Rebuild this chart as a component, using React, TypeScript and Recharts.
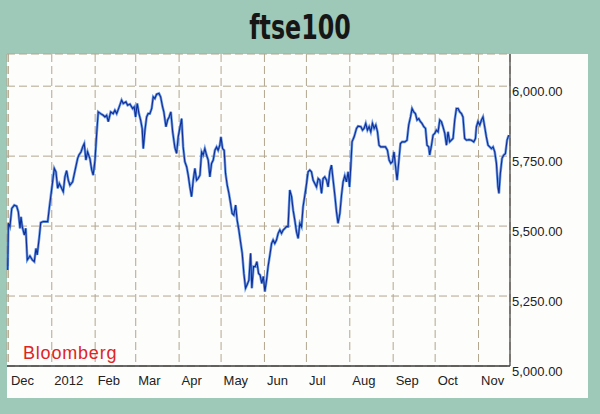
import { LineChart, Line, XAxis, YAxis, CartesianGrid } from 'recharts';

// days counted from 1 Dec 2011, FTSE 100 closing level
const days = [
  -0.5, 0, 1.1, 2.4, 4.2, 5.9, 7.1, 8.3, 9.0, 9.9, 11.4, 12.4, 13.5, 15.4, 17.1, 18.5, 19.7, 20.6, 22.1, 23.1,
  24.9, 26.6, 28.1, 29.2, 30.4, 31.6, 32.8, 34.0, 35.2, 36.4, 37.6, 39.2, 40.4, 41.6, 42.8, 44.0, 45.9, 47.6,
  49.5, 50.4, 51.9, 53.1, 54.2, 55.4, 56.6, 58.3, 59.5, 60.6, 61.9, 63.1, 64.2, 65.9, 67.8, 69.0, 70.2, 71.4,
  73.1, 74.9, 76.1, 77.4, 79.2, 80.9, 82.1, 84.0, 85.2, 86.9, 88.8, 89.9, 90.9, 92.1, 93.3, 94.5, 95.6, 96.4,
  97.6, 98.8, 99.9, 101.1, 102.4, 103.5, 104.7, 105.9, 107.6, 108.8, 110.2, 111.1, 112.6, 113.8, 114.9, 116.1,
  117.4, 119.0, 120.2, 121.4, 122.6, 123.8, 124.9, 126.1, 127.4, 128.5, 129.7, 130.9, 132.1, 133.3, 134.5,
  135.6, 136.9, 138.1, 139.2, 140.4, 141.6, 142.8, 144.0, 145.2, 146.4, 147.6, 148.8, 149.9, 151.1, 151.9,
  153.1, 154.2, 155.2, 156.4, 157.6, 158.8, 159.9, 161.1, 162.4, 163.5, 164.7, 165.9, 167.1, 168.3, 169.5,
  170.6, 171.9, 173.1, 174.0, 175.2, 176.4, 177.6, 178.8, 179.9, 181.1, 182.2, 183.3, 184.5, 185.6, 186.9,
  188.1, 189.2, 190.4, 191.6, 192.8, 194.0, 195.2, 196.4, 197.6, 198.8, 199.9, 201.1, 202.4, 203.5, 204.7,
  205.9, 207.1, 208.3, 209.5, 210.6, 211.9, 213.1, 214.2, 215.4, 216.6, 217.8, 219.0, 220.2, 221.4, 222.6,
  223.8, 224.9, 226.1, 227.4, 228.5, 229.7, 230.9, 232.1, 233.3, 234.5, 235.6, 236.9, 238.1, 239.2, 240.4,
  241.6, 242.8, 243.8, 244.7, 245.6, 247.1, 248.8, 249.9, 251.9, 253.1, 254.2, 255.4, 256.6, 257.8, 259.0,
  260.2, 261.4, 262.6, 263.8, 264.9, 266.1, 267.8, 269.5, 270.9, 272.1, 273.3, 274.5, 275.6, 276.6, 277.8,
  279.0, 280.2, 281.4, 283.3, 284.9, 286.1, 287.4, 288.5, 289.7, 290.9, 292.1, 293.3, 294.5, 295.6, 296.9,
  298.1, 299.2, 300.4, 301.1, 302.4, 303.5, 304.7, 305.9, 307.1, 308.3, 309.5, 310.6, 311.9, 313.1, 314.2,
  315.4, 316.6, 317.8, 319.0, 320.2, 321.4, 322.6, 323.8, 324.9, 326.1, 327.4, 329.2, 330.9, 332.6, 333.8,
  334.5, 335.6, 336.9, 338.1, 339.2, 340.4, 341.6, 342.8, 344.0, 345.2, 346.4, 347.6, 348.8, 349.9, 350.6,
  351.6, 352.8, 354.0, 355.2, 356.4, 357.6,
];

const closes = [
  5343, 5510, 5498, 5563, 5575, 5571, 5551, 5492, 5533, 5498, 5468, 5492, 5379, 5393, 5379, 5373, 5420, 5397, 5462, 5512,
  5516, 5516, 5516, 5563, 5611, 5658, 5706, 5694, 5635, 5652, 5640, 5623, 5676, 5698, 5664, 5646, 5658, 5698,
  5742, 5754, 5765, 5783, 5795, 5736, 5765, 5740, 5702, 5682, 5736, 5831, 5908, 5902, 5896, 5890, 5896, 5873,
  5908, 5902, 5914, 5902, 5926, 5950, 5938, 5944, 5932, 5936, 5920, 5926, 5890, 5938, 5902, 5879, 5849, 5777,
  5843, 5890, 5902, 5902, 5920, 5962, 5956, 5971, 5974, 5962, 5926, 5908, 5855, 5879, 5890, 5908,
  5837, 5780, 5760, 5820, 5852, 5884, 5783, 5730, 5712, 5682, 5640, 5605, 5664, 5706, 5664,
  5670, 5682, 5765, 5754, 5777, 5754, 5736, 5676, 5724, 5736, 5771, 5783, 5771, 5789, 5819,
  5777, 5771, 5688, 5646, 5617, 5581, 5545, 5539, 5575, 5521, 5486, 5444, 5403, 5331, 5278,
  5290, 5307, 5403, 5278, 5355, 5355, 5373, 5331, 5325, 5295, 5320, 5266, 5307, 5355, 5397,
  5438, 5450, 5438, 5450, 5474, 5486, 5474, 5486, 5492, 5498, 5498, 5629, 5605, 5557, 5521,
  5480, 5456, 5510, 5498, 5569, 5611, 5652, 5694, 5700, 5694, 5664, 5652, 5640, 5670, 5664,
  5617, 5670, 5676, 5664, 5640, 5694, 5718, 5664, 5611, 5551, 5510, 5545, 5611, 5658, 5680,
  5658, 5694, 5640, 5712, 5801, 5819, 5849, 5857, 5855, 5843, 5849, 5867, 5843, 5855, 5837,
  5867, 5849, 5861, 5837, 5789, 5783, 5783, 5783, 5771, 5736, 5724, 5730, 5765, 5718, 5664,
  5730, 5795, 5801, 5801, 5807, 5861, 5890, 5920, 5908, 5902, 5879, 5884, 5873, 5867, 5855,
  5849, 5789, 5783, 5754, 5789, 5825, 5831, 5843, 5837, 5879, 5873, 5855, 5831, 5789, 5837,
  5801, 5807, 5813, 5879, 5920, 5920, 5908, 5902, 5890, 5813, 5807, 5809, 5807, 5801, 5813,
  5855, 5873, 5861, 5879, 5890, 5855, 5819, 5789, 5783, 5777, 5783, 5765, 5724, 5640, 5617,
  5688, 5742, 5754, 5759, 5807, 5825,
];

const monthTicks = [0, 31, 62, 91, 122, 152, 183, 213, 244, 275, 305, 336];
const monthLabels = ['Dec', '2012', 'Feb', 'Mar', 'Apr', 'May', 'Jun', 'Jul', 'Aug', 'Sep', 'Oct', 'Nov'];
const priceTicks = [5000, 5250, 5500, 5750, 6000];

const data = days.map((d, i) => ({ day: d, close: closes[i] }));

const labelFont = '"Liberation Sans", Arial, sans-serif';

function MonthTick(props: any) {
  const { x, y, payload } = props;
  const idx = monthTicks.indexOf(payload.value);
  return (
    <text x={x + 2.5} y={y + 19} fontFamily={labelFont} fontSize={13} fill="#222" textAnchor="start">
      {monthLabels[idx]}
    </text>
  );
}

function PriceTick(props: any) {
  const { x, y, payload } = props;
  const label = payload.value.toLocaleString('en-US', { minimumFractionDigits: 2, maximumFractionDigits: 2 });
  return (
    <text x={x + 2} y={y + 10} fontFamily={labelFont} fontSize={13} fill="#222" textAnchor="start">
      {label}
    </text>
  );
}

export default function App() {
  return (
    <div style={{ position: 'absolute', left: 0, top: 0, width: 600, height: 414, background: '#9ec8b7', overflow: 'hidden' }}>
      <div
        style={{
          position: 'absolute', left: 0, top: 9, width: 600, textAlign: 'center',
          fontFamily: '"DejaVu Sans", sans-serif',
          fontWeight: 'bold', fontSize: 33, color: '#161616', lineHeight: '38px',
          transform: 'scaleX(0.72)',
        }}
      >
        ftse100
      </div>
      <div style={{ position: 'absolute', left: 7, top: 54, width: 581, height: 344, background: '#fdfdfb' }} />
      <div style={{ position: 'absolute', left: 0, top: 0 }}>
        <LineChart width={600} height={414} data={data} margin={{ top: 54, left: 7, right: 0, bottom: 18 }}>
          <CartesianGrid stroke="#b3a68f" strokeDasharray="8 4" strokeWidth={1} />
          <XAxis
            dataKey="day"
            type="number"
            domain={[-1, 358.5]}
            ticks={monthTicks}
            interval={0}
            height={30}
            tickSize={0}
            tickMargin={0}
            tickLine={false}
            axisLine={{ stroke: '#3a3a3a', strokeWidth: 1.5 }}
            tick={<MonthTick />}
          />
          <YAxis
            orientation="right"
            type="number"
            domain={[5000, 6115]}
            ticks={priceTicks}
            interval={0}
            width={90}
            tickSize={0}
            tickMargin={0}
            tickLine={false}
            axisLine={{ stroke: '#3a3a3a', strokeWidth: 1.2 }}
            tick={<PriceTick />}
          />
          <Line dataKey="close" stroke="#3f7be0" strokeWidth={2.6} strokeOpacity={0.75} dot={false} isAnimationActive={false} />
          <Line dataKey="close" stroke="#0f2f95" strokeWidth={1.1} dot={false} isAnimationActive={false} />
        </LineChart>
      </div>
      <div
        style={{
          position: 'absolute', left: 23, top: 342, fontFamily: labelFont, fontSize: 18,
          letterSpacing: 0.8, color: '#e02424', lineHeight: '22px',
        }}
      >
        Bloomberg
      </div>
    </div>
  );
}
